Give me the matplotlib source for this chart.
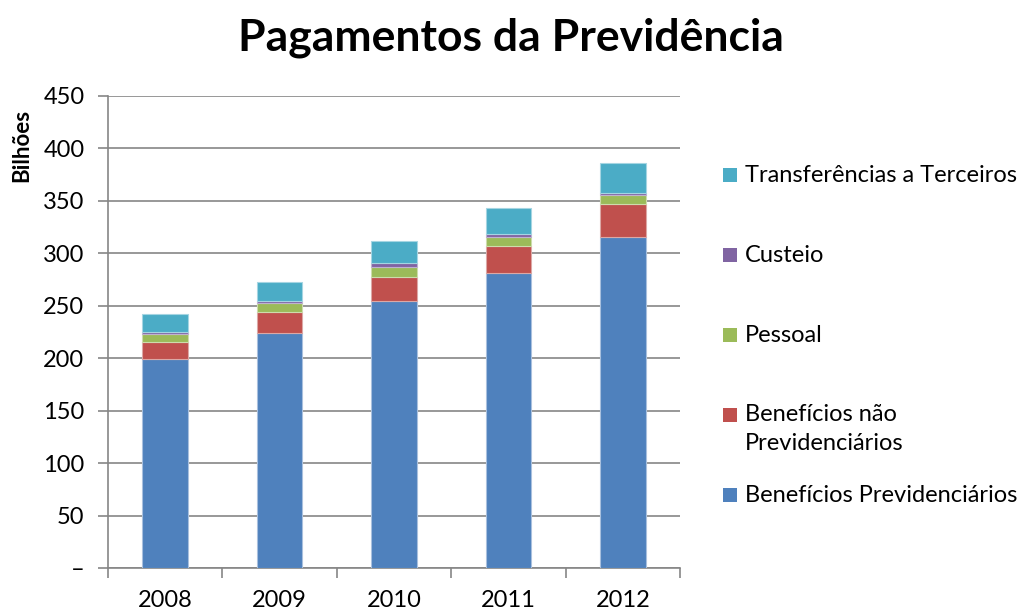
import numpy as np
import matplotlib
matplotlib.use("Agg")
import matplotlib.pyplot as plt
from matplotlib.patches import Rectangle

plt.rcParams['font.family'] = ['Lato', 'DejaVu Sans']

# dados (bilhões)
anos = ['2008', '2009', '2010', '2011', '2012']
beneficios_prev = [199.0, 224.5, 254.5, 281.0, 315.8]
beneficios_nao_prev = [16.9, 20.0, 23.2, 26.0, 30.9]
pessoal = [7.6, 7.7, 9.3, 8.8, 8.6]
custeio = [1.9, 2.2, 3.5, 2.6, 2.5]
transferencias = [16.8, 18.1, 21.2, 25.1, 28.3]

series = [beneficios_prev, beneficios_nao_prev, pessoal, custeio, transferencias]
nomes = ['Benefícios Previdenciários', 'Benefícios não\nPrevidenciários',
         'Pessoal', 'Custeio', 'Transferências a Terceiros']
cores = ['#4F81BD', '#C0504D', '#9BBB59', '#8064A2', '#4BACC6']
bordas = ['#a9c0de', '#dca8a6', '#cddcac', '#bfb1d0', '#a5d5e2']

yticks = [0, 50, 100, 150, 200, 250, 300, 350, 400, 450]
ytick_labels = ['–', '50', '100', '150', '200', '250', '300', '350', '400', '450']

W, H = 1030, 612
fig = plt.figure(figsize=(W / 100, H / 100), dpi=100)
ax = fig.add_axes([108 / W, 1 - 568 / H, (680 - 108) / W, (568 - 96) / H])

x = np.arange(len(anos))
base = np.zeros(len(anos))
for vals, cor, borda in zip(series, cores, bordas):
    ax.bar(x, vals, width=0.4, bottom=base, color=cor, edgecolor=borda,
           linewidth=0.8, zorder=3)
    base += np.array(vals)

ax.set_xlim(-0.5, len(anos) - 0.5)
ax.set_ylim(0, 450)
ax.set_yticks(yticks)
ax.set_yticklabels(ytick_labels, fontsize=17, color='#000000')
ax.set_xticks(x)
ax.set_xticklabels(anos, fontsize=17)
ax.set_xticks(np.arange(-0.5, len(anos)), minor=True)
ax.tick_params(axis='x', which='major', length=0, pad=16)
ax.tick_params(axis='x', which='minor', length=7, color='#868686', width=1.2)
ax.tick_params(axis='y', length=7, color='#868686', width=1.2, pad=10)

ax.grid(axis='y', color='#868686', linewidth=1.2, zorder=0)
for s in ['top', 'right']:
    ax.spines[s].set_visible(False)
for s in ['left', 'bottom']:
    ax.spines[s].set_color('#868686')
    ax.spines[s].set_linewidth(1.2)

fig.text(511 / W, 1 - 38 / H, 'Pagamentos da Previdência', ha='center', va='center',
         fontsize=32, fontweight='bold')
fig.text(22 / W, 1 - 145 / H, 'Bilhões', rotation=90, ha='center', va='center',
         fontsize=16, fontweight='bold')

# legenda (ordem inversa)
leg_y = [495, 415, 335, 255, 175]
for nome, cor, yy in zip(nomes, cores, leg_y):
    fig.patches.append(Rectangle((723 / W, 1 - (yy + 7) / H), 14 / W, 14 / H,
                                 transform=fig.transFigure, facecolor=cor,
                                 edgecolor='none'))
    if '\n' in nome:
        fig.text(745 / W, 1 - (yy - 11) / H, nome, ha='left', va='top',
                 fontsize=17, linespacing=1.45)
    else:
        fig.text(745 / W, 1 - yy / H, nome, ha='left', va='center', fontsize=17)

fig.savefig('out.png', dpi=100)
